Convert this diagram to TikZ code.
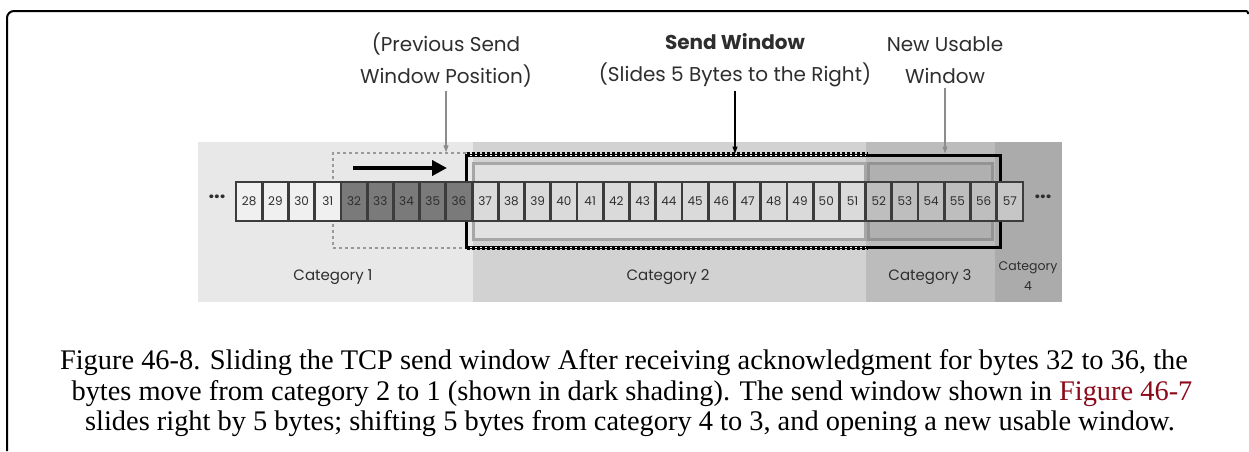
\documentclass[tikz,border=0pt]{standalone}
\usepackage{fontspec}
\setmainfont{Liberation Serif}
\newfontfamily\diag{Poppins}
\usetikzlibrary{arrows.meta}
\definecolor{catA}{HTML}{E8E8E8}
\definecolor{catB}{HTML}{D2D2D2}
\definecolor{catC}{HTML}{BCBCBC}
\definecolor{catD}{HTML}{ABABAB}
\definecolor{cellline}{HTML}{3C3C3C}
\definecolor{cellA}{HTML}{F0F0F0}
\definecolor{cellDark}{HTML}{7A7A7A}
\definecolor{cellB}{HTML}{DADADA}
\definecolor{cellC}{HTML}{BEBEBE}
\definecolor{cellD}{HTML}{C6C6C6}
\definecolor{txt}{HTML}{2E2E2E}
\definecolor{linkred}{HTML}{8B0A1A}
\begin{document}
\begin{tikzpicture}[x=1pt,y=-1pt,
  cellbox/.style={draw=cellline,line width=2.8pt,minimum width=26.23pt,minimum height=39pt,inner sep=0pt,font=\diag\fontsize{12}{12}\selectfont,text=txt},
  toplbl/.style={align=center,font=\diag\fontsize{20}{32}\selectfont,text=txt,inner sep=0pt},
  catlbl/.style={font=\diag\fontsize{15}{16}\selectfont,text=txt,inner sep=0pt},
  dotslbl/.style={font=\diag\bfseries\fontsize{20}{20}\selectfont,text=txt,inner sep=0pt},
  thinarrow/.style={line width=1.1pt,-{Triangle[length=7pt,width=5pt]}},
  caption/.style={font=\fontsize{28.4}{31}\selectfont,inner sep=0pt}]
\useasboundingbox (0,0) rectangle (1249,451);
% frame
\draw[line width=2pt] (7,451) [rounded corners=7pt] -- (7,11) [rounded corners=2pt] -- (1248,11) -- (1248,14);
% category backgrounds
\fill[catA] (198,142) rectangle (473,302);
\fill[catB] (473,142) rectangle (866,302);
\fill[catC] (866,142) rectangle (995,302);
\fill[catD] (995,142) rectangle (1062,302);
% previous window (dotted)
\node[draw=gray!80,dash pattern=on 3pt off 3pt,line width=1.5pt,minimum width=133pt,minimum height=95pt,inner sep=0pt] (prev) at (399.5,200.5) {};
% send window
\node[draw=black,line width=3pt,minimum width=534pt,minimum height=92pt,inner sep=0pt] (sw) at (733,201) {};
\draw[black,line width=1.6pt,dash pattern=on 3pt off 2pt] (467,153.2) -- (868,153.2);
\draw[black,line width=1.6pt,dash pattern=on 3pt off 2pt] (467,248.8) -- (868,248.8);
\draw[white,line width=1pt,dash pattern=on 2pt off 3pt] (470,155) -- (866,155);
\draw[white,line width=1pt,dash pattern=on 2pt off 3pt] (470,247) -- (866,247);
% inner windows
\node[draw=gray!70,line width=3pt,fill=cellB!80!white,minimum width=392pt,minimum height=76pt,inner sep=0pt] (sent) at (669,201) {};
\node[draw=gray!85,line width=3pt,fill=gray!62,minimum width=124pt,minimum height=76pt,inner sep=0pt] (usable) at (930.5,201) {};
% big arrow
\coordinate (mvA) at (353,168);
\coordinate (mvB) at (447,168);
\draw[line width=4pt,-{Triangle[length=15pt,width=15pt]}] (mvA) -- (mvB);
% cells
\foreach \i in {28,...,57}{
  \pgfmathsetmacro{\cx}{236+(\i-28+0.5)*26.233}
  \ifnum\i<32 \def\cf{cellA}\else\ifnum\i<37 \def\cf{cellDark}\else\ifnum\i<52 \def\cf{cellB}\else\ifnum\i<57 \def\cf{cellC}\else\def\cf{cellD}\fi\fi\fi\fi
  \node[cellbox,fill=\cf] (c\i) at (\cx,201.5) {\i};
}
\node[dotslbl] (dl) at (217,197) {...};
\node[dotslbl] (dr) at (1043,197) {...};
% top labels
\node[toplbl] (lprev) at (446,60) {(Previous Send\\Window Position)};
\node[toplbl] (lsend) at (735,60) {\textbf{Send Window}\\(Slides 5 Bytes to the Right)};
\node[toplbl] (lnew) at (945,60) {New Usable\\Window};
\draw[thinarrow,gray!90] ([yshift=-4pt]lprev.south) -- (lprev.south |- prev.north);
\draw[thinarrow,black] ([yshift=-4pt]lsend.south) -- (lsend.south |- sw.north);
\draw[thinarrow,gray!90] ([yshift=-4pt]lnew.south) -- (lnew.south |- sw.north);
% category labels
\node[catlbl] (k1) at (333,277) {Category 1};
\node[catlbl] (k2) at (668,277) {Category 2};
\node[catlbl] (k3) at (930,277) {Category 3};
\node[catlbl,align=center,font=\diag\fontsize{12.5}{20}\selectfont] (k4) at (1028,276) {Category\\4};
% caption
\node[caption] (cap1) at (624,363) {Figure 46-8. Sliding the TCP send window After receiving acknowledgment for bytes 32 to 36, the};
\node[caption] (cap2) at (632,394) {bytes move from category 2 to 1 (shown in dark shading). The send window shown in \textcolor{linkred}{Figure 46-7}};
\node[caption] (cap3) at (630,424) {slides right by 5 bytes; shifting 5 bytes from category 4 to 3, and opening a new usable window.};
\end{tikzpicture}
\end{document}
